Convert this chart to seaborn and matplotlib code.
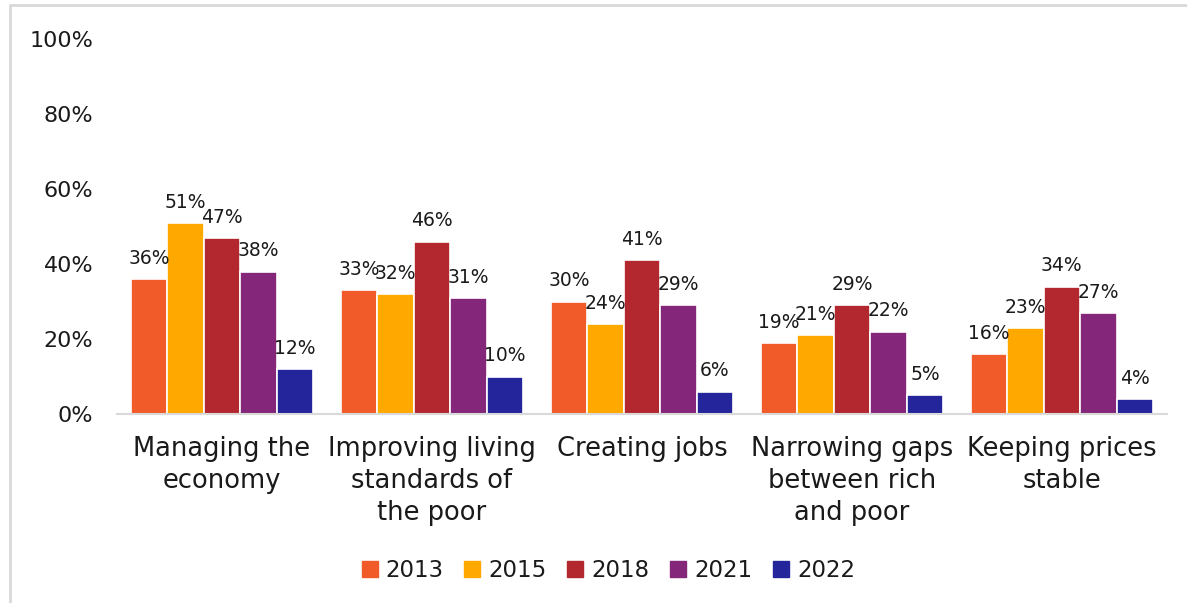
import matplotlib
matplotlib.use("Agg")
import matplotlib.pyplot as plt
import seaborn as sns
import pandas as pd
from matplotlib.lines import Line2D

categories = [
    "Managing the\neconomy",
    "Improving living\nstandards of\nthe poor",
    "Creating jobs",
    "Narrowing gaps\nbetween rich\nand poor",
    "Keeping prices\nstable",
]
years = ["2013", "2015", "2018", "2021", "2022"]
values_2013 = [36, 33, 30, 19, 16]
values_2015 = [51, 32, 24, 21, 23]
values_2018 = [47, 46, 41, 29, 34]
values_2021 = [38, 31, 29, 22, 27]
values_2022 = [12, 10, 6, 5, 4]
y_ticks = [0, 20, 40, 60, 80, 100]

colors = ["#F15A29", "#FFA800", "#B2282E", "#84267A", "#25259B"]

series = [values_2013, values_2015, values_2018, values_2021, values_2022]
rows = []
for year, vals in zip(years, series):
    for cat, v in zip(categories, vals):
        rows.append({"category": cat, "year": year, "value": v})
df = pd.DataFrame(rows)

sns.set_theme(style="white")
plt.rcParams["font.family"] = ["DejaVu Sans"]
plt.rcParams["text.color"] = "#1a1a1a"

fig = plt.figure(figsize=(11.87, 6.03), dpi=100)
ax = fig.add_axes([0.0986, 0.3134, 0.8844, 0.6216])

sns.barplot(
    data=df, x="category", y="value", hue="year",
    hue_order=years, order=categories, palette=colors, saturation=1,
    width=0.87, edgecolor="white", linewidth=1.2,
    ax=ax, legend=False,
)

for container in ax.containers:
    ax.bar_label(container, fmt="%d%%", padding=8, fontsize=13.5, color="#1a1a1a")

ax.set_ylim(0, 100)
ax.set_xlim(-0.5, 4.5)
ax.set_yticks(y_ticks)
ax.set_yticklabels([f"{t}%" for t in y_ticks], fontsize=16, color="#1a1a1a")
ax.tick_params(axis="y", length=0, pad=17)
ax.tick_params(axis="x", length=0, pad=16, labelcolor="#1a1a1a")
for lbl in ax.get_xticklabels():
    lbl.set_fontsize(18.5)
    lbl.set_linespacing(1.3)
ax.set_xlabel("")
ax.set_ylabel("")

for side in ["top", "right", "left"]:
    ax.spines[side].set_visible(False)
ax.spines["bottom"].set_color("#D9D9D9")
ax.spines["bottom"].set_linewidth(1.5)

handles = [Line2D([0], [0], marker="s", linestyle="none", markersize=11,
                  markerfacecolor=c, markeredgecolor=c) for c in colors]
fig.legend(handles, years, loc="center", bbox_to_anchor=(0.511, 0.054),
           ncol=5, frameon=False, fontsize=16.5, handletextpad=0.2,
           columnspacing=0.75, handlelength=1.0)

# light outer frame along the top and left edges
fig.add_artist(Line2D([0.0084, 0.0084], [0, 0.992], transform=fig.transFigure,
                      color="#D9D9D9", linewidth=2))
fig.add_artist(Line2D([0.0084, 1.0], [0.992, 0.992], transform=fig.transFigure,
                      color="#D9D9D9", linewidth=2))

fig.savefig("out.png", dpi=100, facecolor="white")
